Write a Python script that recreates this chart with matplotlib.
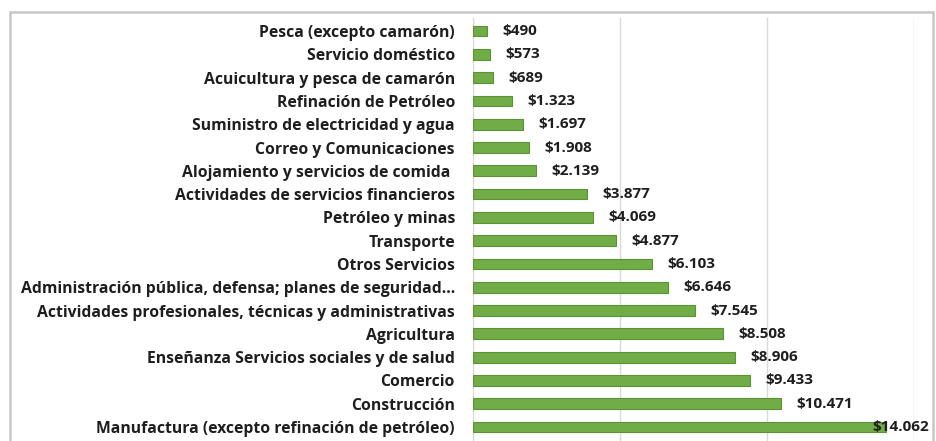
import matplotlib
matplotlib.use("Agg")
import numpy as np
from matplotlib import pyplot as plt
from matplotlib.patches import Rectangle

sectors = [
    "Pesca (excepto camarón)",
    "Servicio doméstico",
    "Acuicultura y pesca de camarón",
    "Refinación de Petróleo",
    "Suministro de electricidad y agua",
    "Correo y Comunicaciones",
    "Alojamiento y servicios de comida ",
    "Actividades de servicios financieros",
    "Petróleo y minas",
    "Transporte",
    "Otros Servicios",
    "Administración pública, defensa; planes de seguridad...",
    "Actividades profesionales, técnicas y administrativas",
    "Agricultura",
    "Enseñanza Servicios sociales y de salud",
    "Comercio",
    "Construcción",
    "Manufactura (excepto refinación de petróleo)",
]
values = [490, 573, 689, 1323, 1697, 1908, 2139, 3877, 4069, 4877,
          6103, 6646, 7545, 8508, 8906, 9433, 10471, 14062]
grid_ticks = [0, 5000, 10000, 15000]

plt.rcParams["font.family"] = ["Open Sans", "DejaVu Sans"]
txt_color = "#1e1e1e"


def money(v):
    return "$" + f"{v:,}".replace(",", ".")


fig = plt.figure(figsize=(9.36, 4.41), dpi=100)
ax = fig.add_axes([473 / 936, 0, (914 - 473) / 936, 1 - 18 / 441])

y = np.arange(len(values))
ax.barh(y, values, height=0.46, color="#70ad47", edgecolor="#5b9236",
        linewidth=0.8, zorder=3)

ax.set_xlim(0, 15000)
ax.set_ylim(17.6, -0.56)
ax.set_xticks(grid_ticks)
ax.set_xticklabels([])
ax.tick_params(axis="x", length=0)
ax.set_yticks(y)
ax.set_yticklabels(sectors, fontsize=11.3, fontweight="bold", color=txt_color)
ax.tick_params(axis="y", length=0, pad=13)
ax.grid(axis="x", color="#d9d9d9", linewidth=1, zorder=0)
for s in ["top", "right", "bottom"]:
    ax.spines[s].set_visible(False)
ax.spines["left"].set_color("#d9d9d9")

for i, v in enumerate(values):
    if i == len(values) - 1:
        # last label does not fit, Excel pushes it back over the bar
        ax.annotate(money(v), (v, i), xytext=(31, 0), textcoords="offset points",
                    ha="right", va="center", fontsize=11, fontweight="bold",
                    color=txt_color, zorder=4)
    else:
        ax.annotate(money(v), (v, i), xytext=(11, 0), textcoords="offset points",
                    ha="left", va="center", fontsize=11, fontweight="bold",
                    color=txt_color, zorder=4)

# chart frame
fig.patches.append(Rectangle((10 / 936, -0.05), (933 - 10) / 936, 1.05 - 12 / 441,
                             transform=fig.transFigure, fill=False,
                             edgecolor="#c8c8c8", linewidth=1.8))

fig.savefig("out.png", dpi=100)
